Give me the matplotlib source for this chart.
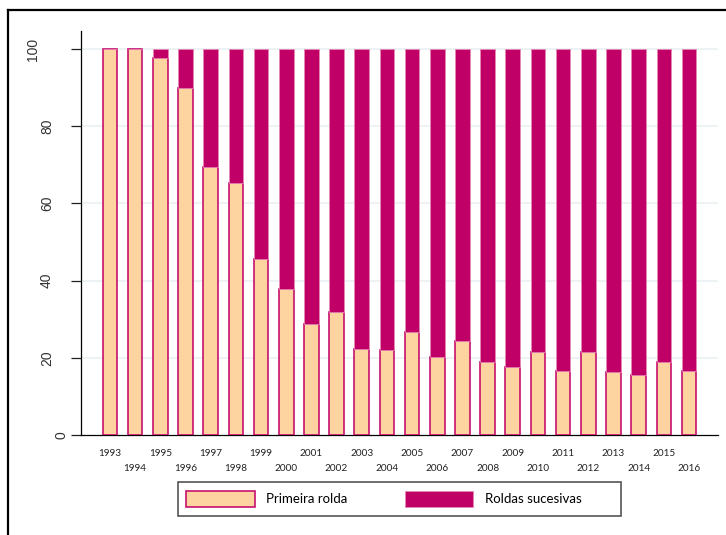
import numpy as np
import matplotlib.pyplot as plt
from matplotlib.patches import Rectangle, Patch
from matplotlib.lines import Line2D

years = list(range(1993, 2017))
primeira = [100, 100, 97.7, 89.9, 69.4, 65.3, 45.6, 37.8, 28.8, 31.9, 22.3, 22.0,
            26.7, 20.2, 24.3, 18.9, 17.6, 21.5, 16.6, 21.5, 16.3, 15.5, 18.9, 16.6]
sucesivas = [100 - p for p in primeira]
yticks = [0, 20, 40, 60, 80, 100]

light = '#FDD3A0'
dark = '#C00066'

W, H = 726, 535
fig = plt.figure(figsize=(W / 100, H / 100), dpi=100)
ax = fig.add_axes([81 / W, 1 - 435 / H, (718 - 81) / W, (435 - 31) / H])

x = np.arange(len(years))
ax.bar(x, primeira, width=0.58, color=light, edgecolor='#C8106E', linewidth=1.2, zorder=3)
ax.bar(x, sucesivas, width=0.58, bottom=primeira, color=dark, edgecolor='#E58AB4',
       linewidth=0.6, zorder=3)

ax.set_xlim(-1.15, len(years) - 1 + 1.15)
ax.set_ylim(0, 104.7)

# grid
for v in yticks[1:]:
    ax.axhline(v, color='#EAF1F3', lw=1.2, zorder=1)

ax.spines['top'].set_visible(False)
ax.spines['right'].set_visible(False)
ax.spines['left'].set_linewidth(0.9)
ax.spines['bottom'].set_linewidth(0.9)

# y ticks, labels placed by hand (rotated)
ax.set_yticks(yticks)
ax.set_yticklabels([])
ax.tick_params(axis='y', length=7, width=0.9, color='#222222')
for v in yticks:
    s = str(v)
    off = {1: -20, 2: -34, 3: -48}[len(s)]
    ax.annotate(s, xy=(0, v), xycoords=ax.get_yaxis_transform(),
                xytext=(off, 0), textcoords='offset pixels',
                rotation=90, ha='center', va='center',
                fontsize=10, family='Liberation Sans', color='#333333')

# x ticks in two rows
ax.set_xticks(x)
ax.set_xticklabels([str(y) for y in years], fontsize=7.2, family='Lato', color='#222222')
ax.tick_params(axis='x', length=0)
for i, t in enumerate(ax.xaxis.get_major_ticks()):
    t.set_pad(10.3 if i % 2 == 0 else 20.8)

# legend
handles = [Patch(facecolor=light, edgecolor='#C8106E', linewidth=1.2, label='Primeira rolda'),
           Patch(facecolor=dark, edgecolor='#E58AB4', linewidth=0.6, label='Roldas sucesivas')]
leg = fig.legend(handles=handles, ncol=2, frameon=False, loc='center left',
                 bbox_to_anchor=(186 / W, 1 - 499 / H),
                 prop={'family': 'Lato', 'size': 9.5},
                 handlelength=5.2, handleheight=1.45, handletextpad=0.9,
                 columnspacing=4.3, borderaxespad=0, borderpad=0)
fig.add_artist(Rectangle((178 / W, 1 - 516 / H), (621 - 178) / W, (516 - 482) / H,
                         transform=fig.transFigure, fill=False,
                         edgecolor='#555555', lw=1.2))

# outer frame (top and left)
fig.add_artist(Line2D([8 / W, 8 / W], [0, 1 - 10 / H], transform=fig.transFigure,
                      color='black', lw=1.6))
fig.add_artist(Line2D([8 / W, 1], [1 - 10 / H, 1 - 10 / H], transform=fig.transFigure,
                      color='black', lw=1.6))

fig.savefig('out.png', dpi=100)
